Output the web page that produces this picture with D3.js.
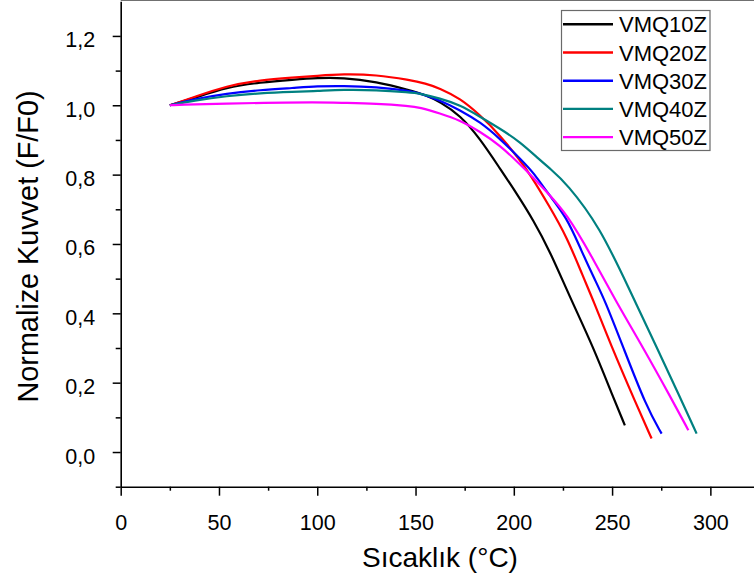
<!DOCTYPE html>
<html><head><meta charset="utf-8">
<script src="https://cdn.jsdelivr.net/npm/d3@7"></script>
<style>
html,body{margin:0;padding:0;background:#fff;}
svg{display:block;font-family:"Liberation Sans",Arial,sans-serif;}
</style></head>
<body>
<svg id="chart" width="754" height="583"></svg>
<script>
// ---- data ----
const seriesNames = ["VMQ10Z","VMQ20Z","VMQ30Z","VMQ40Z","VMQ50Z"];
const seriesColors = ["#000000","#ff0000","#0000ff","#008080","#ff00ff"];

const vmq10 = [[25,1.000],[37,1.020],[54,1.052],[71,1.066],[88,1.074],[100,1.079],[113,1.080],[130,1.068],[147,1.044],[155,1.030],[162.4,1.010],[172.6,0.972],[182.8,0.904],[192.9,0.818],[201.4,0.746],[209.9,0.669],[218.3,0.580],[228.5,0.447],[240.4,0.303],[250.4,0.160],[256.5,0.077]];
const vmq20 = [[25,1.000],[37,1.023],[54,1.056],[71,1.073],[88,1.080],[100,1.085],[113,1.090],[130,1.088],[147,1.073],[155,1.063],[162.4,1.049],[172.6,1.020],[182.8,0.972],[192.9,0.914],[203.1,0.842],[208.2,0.801],[218,0.710],[227,0.620],[235.3,0.505],[240.4,0.438],[248.9,0.315],[262.5,0.135],[270.1,0.039]];
const vmq30 = [[25,1.000],[37,1.017],[54,1.034],[71,1.044],[88,1.050],[100,1.055],[113,1.056],[130,1.053],[147,1.042],[152.2,1.034],[162.4,1.015],[172.6,0.986],[182.8,0.952],[192.9,0.904],[203.1,0.847],[210.8,0.801],[216.7,0.750],[226.9,0.678],[234.4,0.580],[241.3,0.496],[246.3,0.438],[255.6,0.303],[267.5,0.130],[275.2,0.053]];
const vmq40 = [[25,1.000],[37,1.013],[54,1.027],[71,1.035],[88,1.039],[100,1.041],[113,1.045],[130,1.044],[147,1.037],[152,1.034],[162.4,1.020],[172.6,1.001],[182.8,0.967],[192.9,0.933],[203.1,0.895],[213.3,0.842],[218.3,0.818],[226.9,0.775],[243.8,0.649],[258.2,0.476],[272.6,0.303],[284.5,0.159],[293,0.053]];
const vmq50 = [[25,1.000],[37,1.003],[54,1.005],[71,1.007],[100,1.009],[113,1.007],[130,1.005],[147,0.998],[152,0.994],[162.4,0.977],[172.6,0.957],[182.8,0.924],[192.9,0.885],[203.1,0.830],[209,0.797],[216.7,0.750],[226.9,0.688],[239.8,0.563],[251.6,0.438],[265.6,0.303],[279.7,0.159],[288.8,0.063]];
const seriesData = [vmq10, vmq20, vmq30, vmq40, vmq50];

const xMajorTicks = [0,50,100,150,200,250,300];
const xMinorTicks = [25,75,125,175,225,275];
const yMajorTicks = [0.0,0.2,0.4,0.6,0.8,1.0,1.2];
const yMinorTicks = [-0.1,0.1,0.3,0.5,0.7,0.9,1.1];
const xTitle = "Sıcaklık (°C)";
const yTitle = "Normalize Kuvvet (F/F0)";

// ---- layout ----
const svg = d3.select("#chart");
const left = 120.7, bottom = 486.7;
const x = d3.scaleLinear().domain([0, 322.2]).range([left, 754]);
const y = d3.scaleLinear().domain([-0.1, 1.3]).range([bottom, 1.25]);
const fmt = d => d3.format(".1f")(d).replace(".", ",");

// top frame line (grey)
svg.append("line").attr("x1", left).attr("x2", 754).attr("y1", 0.5).attr("y2", 0.5)
  .attr("stroke", "#707070").attr("stroke-width", 1);

// curves
const line = d3.line().x(d => x(d[0])).y(d => y(d[1])).curve(d3.curveBasis);
seriesData.forEach((s, i) => {
  svg.append("path").datum(s).attr("d", line).attr("fill", "none")
    .attr("stroke", seriesColors[i]).attr("stroke-width", 2.2)
    .attr("stroke-linejoin", "round");
});

// x axis
const gx = svg.append("g").attr("transform", `translate(0,${bottom})`);
gx.call(d3.axisBottom(x).tickValues(xMajorTicks).tickSize(9).tickSizeOuter(0).tickFormat(d3.format("d")));
gx.append("g").call(d3.axisBottom(x).tickValues(xMinorTicks).tickSize(4).tickFormat(""))
  .select(".domain").remove();
gx.selectAll("text").attr("font-size", 21.5).attr("fill", "#000").attr("dy", 0).attr("y", 43);
gx.selectAll("line").attr("stroke", "#000").attr("stroke-width", 1.5);
gx.select(".domain").attr("stroke", "#000").attr("stroke-width", 1.6);

// y axis
const gy = svg.append("g").attr("transform", `translate(${left},0)`);
gy.call(d3.axisLeft(y).tickValues(yMajorTicks).tickSize(8).tickSizeOuter(0).tickFormat(fmt));
gy.append("g").call(d3.axisLeft(y).tickValues(yMinorTicks).tickSize(5).tickFormat(""))
  .select(".domain").remove();
gy.selectAll("text").attr("font-size", 21.5).attr("fill", "#000").attr("dy", 0).attr("x", -25.5).attr("y", 11);
gy.selectAll("line").attr("stroke", "#000").attr("stroke-width", 1.5);
gy.select(".domain").attr("stroke", "#000").attr("stroke-width", 1.6);

// titles
svg.append("text").attr("x", 440).attr("y", 566.5).attr("text-anchor", "middle")
  .attr("font-size", 28).attr("fill", "#000").text(xTitle);
svg.append("text").attr("transform", "translate(38,246.5) rotate(-90)").attr("text-anchor", "middle")
  .attr("font-size", 28.8).attr("fill", "#000").text(yTitle);

// legend
const lg = svg.append("g");
lg.append("rect").attr("x", 561.5).attr("y", 10.5).attr("width", 148.5).attr("height", 140)
  .attr("fill", "#fff").attr("stroke", "#6a6a6a").attr("stroke-width", 1.2);
seriesNames.forEach((n, i) => {
  const yy = 24.3 + i * 28.2;
  lg.append("line").attr("x1", 563).attr("x2", 613).attr("y1", yy).attr("y2", yy)
    .attr("stroke", seriesColors[i]).attr("stroke-width", 2.4);
  lg.append("text").attr("x", 619).attr("y", yy + 8).attr("font-size", 22).attr("fill", "#000").text(n);
});
</script>
</body></html>
